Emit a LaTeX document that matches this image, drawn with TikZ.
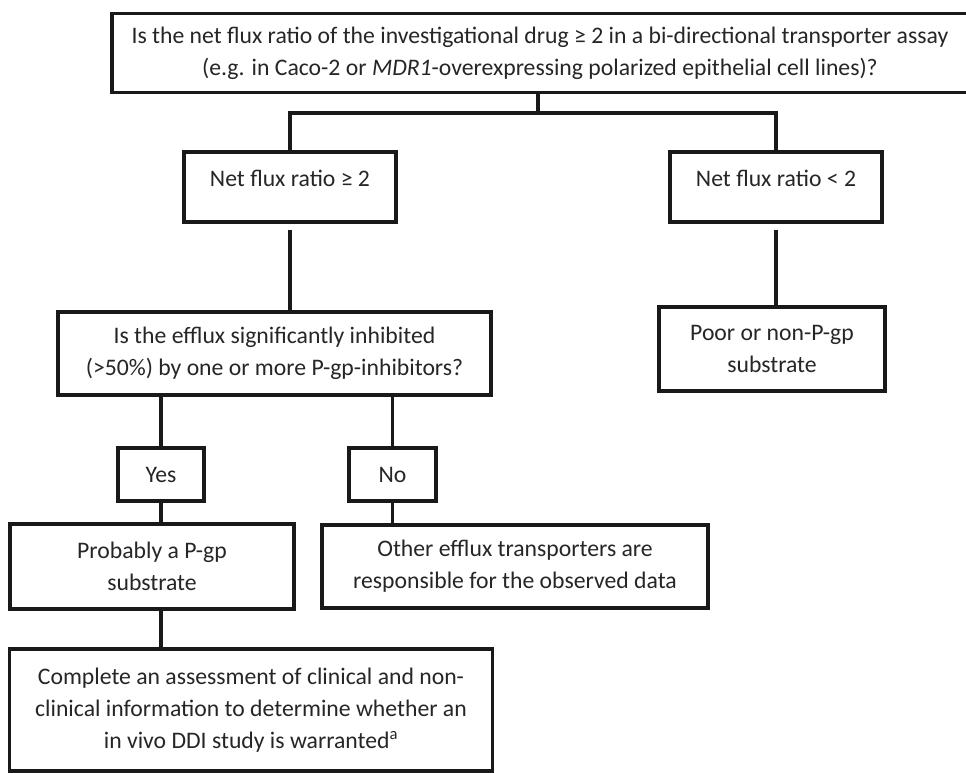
\documentclass[tikz,border=0pt]{standalone}
\usepackage{fontspec}
\setmainfont{Carlito}
\begin{document}
\begin{tikzpicture}[x=1pt,y=-1pt,
  box/.style={draw=black!90, line width=3.3pt, inner sep=0pt, align=center,
    font=\fontsize{23.7}{32}\selectfont, text=black!85},
  lbl/.style={font=\fontsize{23.7}{32}\selectfont, text=black!85, inner sep=0pt},
  conn/.style={draw=black!90, line width=3.3pt}]
\useasboundingbox (0,0) rectangle (966,772);
\fill[white] (0,0) rectangle (966,772);
% boxes
\node[box, minimum width=856pt, minimum height=79pt] (top) at (540,53)
  {Is the net flux ratio of the investigational drug ≥ 2 in a bi-directional transporter assay\\
   (e.g. in Caco-2 or \textit{MDR1}-overexpressing polarized epithelial cell lines)?};
\node[box, minimum width=212pt, minimum height=70pt,
  label={[lbl, yshift=9pt]center:Net flux ratio ≥ 2}] (A) at (290,187) {};
\node[box, minimum width=212pt, minimum height=70pt,
  label={[lbl, yshift=9pt]center:Net flux ratio < 2}] (B) at (776,187) {};
\node[box, minimum width=433pt, minimum height=83pt] (C) at (274.5,353.5)
  {Is the efflux significantly inhibited\\ (>50\%) by one or more P-gp-inhibitors?};
\node[box, minimum width=226pt, minimum height=84pt] (D) at (772,349)
  {Poor or non-P-gp\\ substrate};
\node[box, minimum width=86pt, minimum height=53pt] (Y) at (161,474.5) {Yes};
\node[box, minimum width=87pt, minimum height=53pt] (N) at (392.5,474.5) {No};
\node[box, minimum width=284pt, minimum height=85pt] (P) at (152,566.5)
  {Probably a P-gp\\ substrate};
\node[box, minimum width=386pt, minimum height=83pt] (O) at (515,566.5)
  {Other efflux transporters are\\ responsible for the observed data};
\node[box, minimum width=483pt, minimum height=122pt] (E) at (251,710)
  {Complete an assessment of clinical and non-\\
   clinical information to determine whether an\\
   in vivo DDI study is warranted\textsuperscript{a}};
% connectors
\coordinate (j) at (538,113);
\draw[conn] (top.south -| j) -- (j);
\draw[conn] (A.north) |- (j) -| (B.north);
\draw[conn, shorten <=6pt] (A.south) -- (A.south |- C.north);
\draw[conn, shorten <=6pt] (B.south) -- (B.south |- D.north);
\draw[conn] (Y.south |- C.south) -- (Y.north);
\draw[conn] (N.south |- C.south) -- (N.north);
\draw[conn] (Y.south) -- (Y.south |- P.north);
\draw[conn] (N.south) -- (N.south |- O.north);
\draw[conn] (Y.south |- P.south) -- (Y.south |- E.north);
\end{tikzpicture}
\end{document}
